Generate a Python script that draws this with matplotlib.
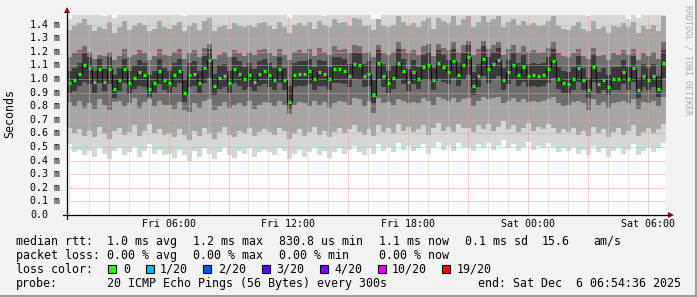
import numpy as np
import matplotlib
matplotlib.use('Agg')
import matplotlib.pyplot as plt
from matplotlib.patches import Polygon, Rectangle
import matplotlib.transforms as mtransforms

# ---------------- data (values in milliseconds) ----------------
# 120 columns of 15 minutes, Fri 00:54:36 -> Sat 06:54:36 (hours since Fri 00:00)
t_start = 0.91
t_step = 0.25

median = [0.97, 0.99, 1.04, 1.10, 1.08, 0.98, 1.07, 0.98, 1.07, 0.93, 0.99, 1.07, 0.97, 1.01, 1.05, 1.03, 0.93, 0.97, 1.06, 0.99,
          0.97, 1.03, 1.06, 0.90, 1.03, 1.04, 0.97, 1.08, 1.14, 0.95, 1.01, 1.02, 0.97, 1.07, 1.04, 1.00, 1.03, 0.98, 1.04, 1.06,
          1.03, 0.99, 1.07, 0.99, 0.83, 1.03, 1.04, 1.04, 1.06, 1.00, 1.05, 1.04, 1.00, 1.07, 1.07, 1.06, 1.02, 1.11, 1.10, 1.02,
          1.04, 0.88, 1.12, 1.02, 0.97, 1.01, 1.12, 1.06, 0.98, 1.05, 1.00, 1.09, 1.10, 0.99, 1.12, 1.09, 1.05, 1.13, 1.03, 1.10,
          1.16, 0.95, 1.02, 1.15, 1.07, 1.11, 1.14, 0.99, 1.05, 1.10, 1.03, 1.09, 1.02, 1.03, 1.02, 1.03, 1.07, 1.13, 1.00, 0.97,
          0.96, 1.00, 1.08, 0.99, 0.92, 1.09, 0.96, 0.99, 0.94, 1.00, 1.00, 1.05, 1.00, 1.08, 0.92, 1.02, 0.99, 1.02, 0.93, 1.12]

smoke_lo1 = [0.52, 0.46, 0.48, 0.44, 0.47, 0.43, 0.50, 0.45, 0.41, 0.47, 0.49, 0.44, 0.46, 0.50, 0.43, 0.47, 0.52, 0.45, 0.48, 0.44,
             0.45, 0.42, 0.48, 0.44, 0.40, 0.47, 0.43, 0.49, 0.45, 0.41, 0.46, 0.50, 0.44, 0.42, 0.47, 0.45, 0.49, 0.43, 0.46, 0.48,
             0.46, 0.44, 0.49, 0.47, 0.41, 0.45, 0.48, 0.43, 0.46, 0.50, 0.44, 0.47, 0.42, 0.46, 0.49, 0.45, 0.48, 0.51, 0.46, 0.44,
             0.49, 0.45, 0.52, 0.47, 0.50, 0.46, 0.53, 0.48, 0.51, 0.47, 0.49, 0.52, 0.45, 0.50, 0.54, 0.48, 0.51, 0.47, 0.53, 0.50,
             0.50, 0.47, 0.52, 0.49, 0.53, 0.48, 0.51, 0.55, 0.49, 0.52, 0.47, 0.50, 0.54, 0.48, 0.51, 0.49, 0.53, 0.50, 0.46, 0.49,
             0.47, 0.50, 0.45, 0.48, 0.44, 0.51, 0.46, 0.49, 0.43, 0.47, 0.50, 0.45, 0.48, 0.52, 0.44, 0.47, 0.50, 0.46, 0.49, 0.53]
smoke_lo2 = [0.64, 0.60, 0.63, 0.58, 0.62, 0.57, 0.65, 0.60, 0.56, 0.62, 0.64, 0.59, 0.61, 0.66, 0.58, 0.62, 0.67, 0.60, 0.63, 0.59,
             0.60, 0.57, 0.63, 0.59, 0.55, 0.62, 0.58, 0.64, 0.60, 0.56, 0.61, 0.65, 0.59, 0.57, 0.62, 0.60, 0.64, 0.58, 0.61, 0.63,
             0.61, 0.59, 0.64, 0.62, 0.56, 0.60, 0.63, 0.58, 0.61, 0.65, 0.59, 0.62, 0.57, 0.61, 0.64, 0.60, 0.63, 0.66, 0.61, 0.59,
             0.63, 0.58, 0.66, 0.61, 0.64, 0.60, 0.67, 0.62, 0.65, 0.61, 0.63, 0.66, 0.59, 0.64, 0.68, 0.62, 0.65, 0.61, 0.67, 0.64,
             0.64, 0.61, 0.66, 0.63, 0.67, 0.62, 0.65, 0.69, 0.63, 0.66, 0.61, 0.64, 0.68, 0.62, 0.65, 0.63, 0.67, 0.64, 0.60, 0.63,
             0.61, 0.64, 0.59, 0.62, 0.58, 0.65, 0.60, 0.63, 0.57, 0.61, 0.64, 0.59, 0.62, 0.66, 0.58, 0.61, 0.64, 0.60, 0.63, 0.67]
smoke_lo3 = [0.83, 0.80, 0.84, 0.79, 0.82, 0.78, 0.85, 0.81, 0.77, 0.83, 0.84, 0.80, 0.82, 0.86, 0.79, 0.83, 0.85, 0.80, 0.84, 0.81,
             0.81, 0.78, 0.83, 0.77, 0.76, 0.82, 0.79, 0.84, 0.85, 0.77, 0.80, 0.83, 0.79, 0.81, 0.82, 0.80, 0.84, 0.78, 0.81, 0.83,
             0.82, 0.80, 0.84, 0.81, 0.74, 0.81, 0.83, 0.82, 0.80, 0.84, 0.81, 0.83, 0.79, 0.82, 0.84, 0.83, 0.81, 0.86, 0.85, 0.80,
             0.84, 0.75, 0.86, 0.82, 0.83, 0.81, 0.85, 0.84, 0.82, 0.83, 0.82, 0.86, 0.84, 0.81, 0.87, 0.85, 0.84, 0.86, 0.83, 0.85,
             0.86, 0.80, 0.84, 0.87, 0.85, 0.86, 0.87, 0.82, 0.84, 0.86, 0.83, 0.85, 0.83, 0.84, 0.83, 0.84, 0.85, 0.87, 0.82, 0.80,
             0.81, 0.83, 0.84, 0.82, 0.77, 0.85, 0.81, 0.83, 0.79, 0.82, 0.83, 0.84, 0.82, 0.85, 0.78, 0.83, 0.82, 0.84, 0.80, 0.87]
smoke_lo4 = [0.90, 0.91, 0.95, 0.98, 0.96, 0.90, 0.97, 0.91, 0.96, 0.86, 0.91, 0.97, 0.89, 0.93, 0.95, 0.94, 0.87, 0.90, 0.96, 0.92,
             0.90, 0.94, 0.97, 0.83, 0.94, 0.95, 0.90, 0.97, 1.01, 0.88, 0.93, 0.94, 0.90, 0.97, 0.95, 0.92, 0.94, 0.91, 0.95, 0.96,
             0.94, 0.92, 0.97, 0.92, 0.79, 0.94, 0.95, 0.95, 0.96, 0.92, 0.95, 0.95, 0.92, 0.97, 0.97, 0.96, 0.94, 1.00, 0.99, 0.94,
             0.95, 0.82, 1.00, 0.94, 0.90, 0.93, 1.00, 0.96, 0.91, 0.96, 0.93, 0.99, 0.99, 0.92, 1.00, 0.98, 0.96, 1.01, 0.95, 0.99,
             1.03, 0.88, 0.94, 1.02, 0.97, 1.00, 1.02, 0.92, 0.96, 0.99, 0.95, 0.98, 0.94, 0.95, 0.94, 0.95, 0.97, 1.01, 0.93, 0.90,
             0.89, 0.92, 0.98, 0.92, 0.86, 0.98, 0.89, 0.92, 0.88, 0.92, 0.92, 0.96, 0.92, 0.98, 0.86, 0.94, 0.92, 0.94, 0.87, 1.01]
smoke_hi4 = [1.06, 1.08, 1.12, 1.19, 1.16, 1.06, 1.15, 1.07, 1.16, 1.03, 1.08, 1.15, 1.06, 1.10, 1.14, 1.12, 1.03, 1.06, 1.15, 1.08,
             1.06, 1.12, 1.15, 1.00, 1.12, 1.13, 1.06, 1.17, 1.22, 1.04, 1.10, 1.11, 1.06, 1.16, 1.13, 1.09, 1.12, 1.07, 1.13, 1.15,
             1.12, 1.08, 1.16, 1.08, 0.95, 1.12, 1.13, 1.13, 1.15, 1.09, 1.14, 1.13, 1.09, 1.16, 1.16, 1.15, 1.11, 1.20, 1.19, 1.11,
             1.13, 0.99, 1.21, 1.11, 1.06, 1.10, 1.22, 1.15, 1.07, 1.14, 1.09, 1.18, 1.20, 1.08, 1.21, 1.18, 1.14, 1.22, 1.12, 1.19,
             1.25, 1.05, 1.11, 1.24, 1.16, 1.20, 1.23, 1.08, 1.14, 1.19, 1.12, 1.18, 1.11, 1.12, 1.11, 1.12, 1.16, 1.22, 1.09, 1.06,
             1.05, 1.09, 1.17, 1.08, 1.01, 1.18, 1.05, 1.08, 1.03, 1.09, 1.09, 1.14, 1.09, 1.17, 1.01, 1.11, 1.08, 1.11, 1.02, 1.21]
smoke_hi3 = [1.16, 1.19, 1.21, 1.24, 1.20, 1.15, 1.18, 1.17, 1.20, 1.14, 1.17, 1.22, 1.16, 1.18, 1.21, 1.19, 1.14, 1.17, 1.22, 1.18,
             1.17, 1.20, 1.22, 1.15, 1.19, 1.21, 1.16, 1.23, 1.26, 1.15, 1.18, 1.20, 1.16, 1.21, 1.19, 1.17, 1.20, 1.18, 1.21, 1.22,
             1.19, 1.17, 1.22, 1.18, 1.14, 1.20, 1.21, 1.19, 1.22, 1.17, 1.23, 1.20, 1.18, 1.24, 1.21, 1.22, 1.19, 1.25, 1.24, 1.19,
             1.20, 1.16, 1.25, 1.19, 1.18, 1.20, 1.27, 1.22, 1.19, 1.21, 1.18, 1.24, 1.26, 1.17, 1.26, 1.23, 1.21, 1.27, 1.20, 1.25,
             1.28, 1.18, 1.22, 1.28, 1.22, 1.25, 1.27, 1.18, 1.22, 1.25, 1.20, 1.24, 1.20, 1.21, 1.19, 1.20, 1.23, 1.27, 1.19, 1.17,
             1.16, 1.19, 1.22, 1.17, 1.15, 1.23, 1.17, 1.18, 1.14, 1.19, 1.18, 1.21, 1.18, 1.22, 1.14, 1.19, 1.17, 1.20, 1.15, 1.27]
smoke_hi2 = [1.36, 1.39, 1.41, 1.44, 1.40, 1.35, 1.38, 1.37, 1.42, 1.34, 1.38, 1.43, 1.36, 1.39, 1.41, 1.40, 1.35, 1.37, 1.43, 1.38,
             1.37, 1.40, 1.42, 1.35, 1.39, 1.41, 1.36, 1.43, 1.45, 1.35, 1.38, 1.40, 1.37, 1.41, 1.39, 1.38, 1.40, 1.38, 1.41, 1.42,
             1.39, 1.37, 1.42, 1.38, 1.34, 1.40, 1.41, 1.39, 1.42, 1.37, 1.43, 1.40, 1.38, 1.44, 1.41, 1.42, 1.39, 1.45, 1.44, 1.39,
             1.40, 1.36, 1.44, 1.39, 1.38, 1.40, 1.46, 1.42, 1.39, 1.41, 1.38, 1.43, 1.45, 1.37, 1.45, 1.43, 1.41, 1.46, 1.40, 1.44,
             1.46, 1.38, 1.42, 1.46, 1.42, 1.44, 1.46, 1.38, 1.42, 1.44, 1.40, 1.43, 1.40, 1.41, 1.39, 1.40, 1.43, 1.46, 1.39, 1.37,
             1.36, 1.39, 1.42, 1.37, 1.35, 1.43, 1.37, 1.38, 1.34, 1.39, 1.38, 1.41, 1.38, 1.42, 1.34, 1.39, 1.37, 1.40, 1.35, 1.46]
smoke_hi1 = [1.44, 1.52, 1.55, 1.60, 1.50, 1.48, 1.53, 1.46, 1.58, 1.45, 1.51, 1.57, 1.49, 1.52, 1.55, 1.54, 1.47, 1.50, 1.56, 1.52,
             1.49, 1.53, 1.56, 1.46, 1.51, 1.55, 1.48, 1.58, 1.60, 1.47, 1.52, 1.54, 1.49, 1.55, 1.50, 1.48, 1.53, 1.51, 1.56, 1.57,
             1.52, 1.50, 1.56, 1.49, 1.45, 1.53, 1.55, 1.51, 1.57, 1.48, 1.59, 1.46, 1.50, 1.58, 1.54, 1.55, 1.52, 1.60, 1.57, 1.51,
             1.53, 1.44, 1.42, 1.51, 1.49, 1.54, 1.60, 1.55, 1.50, 1.56, 1.48, 1.58, 1.60, 1.47, 1.59, 1.56, 1.52, 1.60, 1.53, 1.58,
             1.60, 1.50, 1.55, 1.60, 1.54, 1.58, 1.60, 1.49, 1.53, 1.57, 1.51, 1.56, 1.50, 1.52, 1.48, 1.51, 1.55, 1.60, 1.50, 1.48,
             1.48, 1.52, 1.56, 1.49, 1.46, 1.58, 1.50, 1.51, 1.47, 1.53, 1.50, 1.55, 1.44, 1.57, 1.45, 1.52, 1.49, 1.54, 1.47, 1.60]

y_ticks = [0.0, 0.1, 0.2, 0.3, 0.4, 0.5, 0.6, 0.7, 0.8, 0.9, 1.0, 1.1, 1.2, 1.3, 1.4]
y_tick_labels = ['0.0', '0.1 m', '0.2 m', '0.3 m', '0.4 m', '0.5 m', '0.6 m', '0.7 m',
                 '0.8 m', '0.9 m', '1.0 m', '1.1 m', '1.2 m', '1.3 m', '1.4 m']
x_ticks = [6, 12, 18, 24, 30]
x_tick_labels = ['Fri 06:00', 'Fri 12:00', 'Fri 18:00', 'Sat 00:00', 'Sat 06:00']

loss_labels = ['0', '1/20', '2/20', '3/20', '4/20', '10/20', '19/20']
loss_colors = ['#26ff00', '#00b8ff', '#0059ff', '#5e00ff', '#7e00ff', '#dd00ff', '#ff0000']

# ---------------- figure ----------------
W, H = 697, 297
MONO = 'DejaVu Sans Mono'
fig = plt.figure(figsize=(W / 100, H / 100), dpi=100)
fig.patch.set_facecolor('#F3F3F3')

def fx(x):
    return x / W

def fy(y):
    return 1 - y / H

ax = fig.add_axes([fx(67), fy(215), 599 / W, 200 / H])
ax.set_facecolor('white')
n = len(median)
edges = t_start + np.arange(n + 1) * t_step
centers = edges[:-1] + t_step / 2
ax.set_xlim(edges[0], edges[-1])
ax.set_ylim(0, 200 / 136)
for s in ax.spines.values():
    s.set_visible(False)
ax.set_xticks([])
ax.set_yticks([])

def ext(a):
    a = np.asarray(a, dtype=float)
    return np.append(a, a[-1])

layers = [(smoke_lo1, smoke_hi1, '#D6D6D6'),
          (smoke_lo2, smoke_hi2, '#A6A6A6'),
          (smoke_lo3, smoke_hi3, '#6E6E6E'),
          (smoke_lo4, smoke_hi4, '#3A3A3A')]
for k, (lo, hi, col) in enumerate(layers):
    ax.fill_between(edges, ext(lo), ext(hi), step='post', color=col, lw=0, zorder=1 + 0.1 * k)

# grid on top of smoke
for v in y_ticks[1:]:
    ax.axhline(v, color='#E0A0A0', lw=0.72, ls=(0, (1, 1)), zorder=2)
for h in range(1, 31):
    if edges[0] < h < edges[-1]:
        if h % 3 == 0:
            ax.axvline(h, color='#E0A0A0', lw=0.72, ls=(0, (1, 1)), zorder=2)
        else:
            ax.axvline(h, color='#CFCFCF', lw=0.72, ls=(0, (1, 1)), zorder=2)

# median
ax.step(edges, ext(median), where='post', color='#101010', lw=0.8, zorder=3)
ax.hlines(median, centers - 0.075, centers + 0.075, color=loss_colors[0], lw=2.3, zorder=4)

# axes lines and arrows (pixel coordinates)
fig.add_artist(plt.Line2D([fx(63), fx(668)], [fy(215), fy(215)], color='black', lw=0.9))
fig.add_artist(plt.Line2D([fx(67), fx(67)], [fy(219), fy(12)], color='black', lw=0.9))
fig.add_artist(Polygon([[fx(668), fy(212)], [fx(674), fy(215)], [fx(668), fy(218)]],
                       closed=True, color='#8B0000', lw=0))
fig.add_artist(Polygon([[fx(64), fy(13)], [fx(67), fy(7)], [fx(70), fy(13)]],
                       closed=True, color='#8B0000', lw=0))

# y tick labels
bt = mtransforms.blended_transform_factory(fig.transFigure, ax.transData)
for v, lab in zip(y_ticks, y_tick_labels):
    ax.text(fx(30), v, lab, transform=bt, ha='left', va='center', fontsize=7.2,
            family=MONO, color='black', clip_on=False)
# x tick labels
bx = mtransforms.blended_transform_factory(ax.transData, fig.transFigure)
for v, lab in zip(x_ticks, x_tick_labels):
    ax.text(v, fy(227), lab, transform=bx, ha='center', va='baseline', fontsize=7.2,
            family=MONO, color='black', clip_on=False)

# y label and watermark
fig.text(fx(10), fy(114), 'Seconds', rotation=90, ha='center', va='center',
         fontsize=8.4, family=MONO, color='black')
fig.text(fx(688), fy(60), 'RRDTOOL / TOBI OETIKER', rotation=270, ha='center', va='center',
         fontsize=6, family=MONO, color='#A8A8A8')

# legend text
def t(x, yb, s):
    fig.text(fx(x), fy(yb), s, ha='left', va='baseline', fontsize=8.4, family=MONO, color='black')

t(16, 245, 'median rtt:')
t(107, 245, '1.0 ms avg')
t(193, 245, '1.2 ms max')
t(279, 245, '830.8 us min')
t(379, 245, '1.1 ms now')
t(465, 245, '0.1 ms sd')
t(542, 245, '15.6')
t(593, 245, 'am/s')

t(16, 259, 'packet loss:')
t(107, 259, '0.00 % avg')
t(193, 259, '0.00 % max')
t(279, 259, '0.00 % min')
t(379, 259, '0.00 % now')

t(16, 273, 'loss color:')
sq_x = [108, 146, 203, 262, 320, 378, 442]
lab_x = [123, 160, 218, 276, 334, 392, 457]
for sx, lx, lab, col in zip(sq_x, lab_x, loss_labels, loss_colors):
    fig.add_artist(Rectangle((fx(sx), fy(273)), 8 / W, 8 / H, facecolor=col,
                             edgecolor='black', lw=0.8))
    t(lx, 273, lab)

t(16, 287, 'probe:')
t(107, 287, '20 ICMP Echo Pings (56 Bytes) every 300s')
t(478, 287, 'end: Sat Dec  6 06:54:36 2025')

# frame
fig.add_artist(Rectangle((0, 0), 1, 2 / H, facecolor='#9C9C9C', lw=0))
fig.add_artist(Rectangle((1 - 2 / W, 0), 2 / W, 1, facecolor='#9C9C9C', lw=0))

fig.savefig('out.png', dpi=100, facecolor=fig.get_facecolor())
